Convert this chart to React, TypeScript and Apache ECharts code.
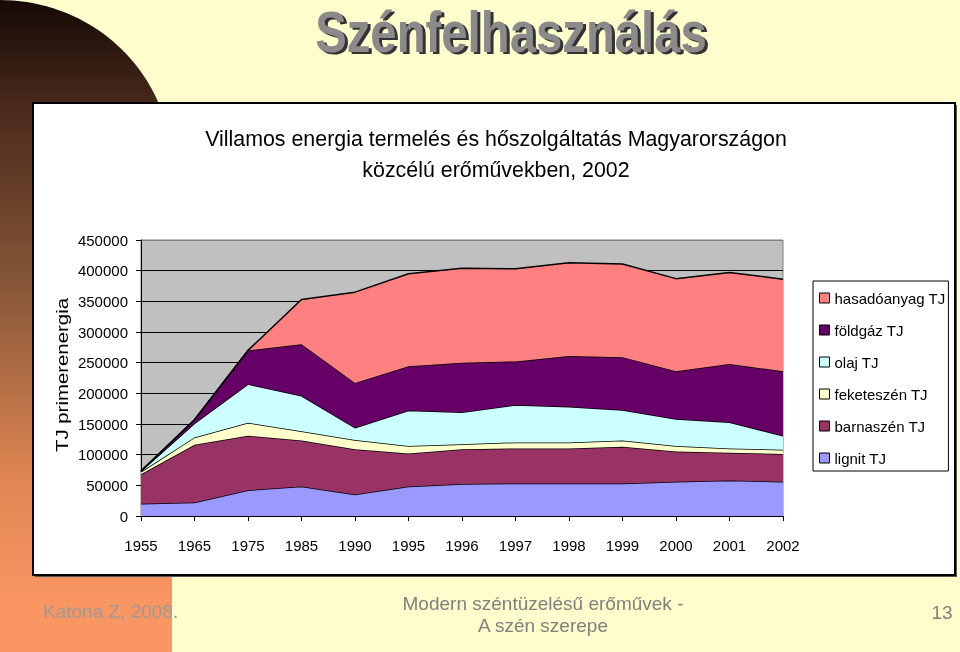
import React, { useEffect, useRef } from "react";
import * as echarts from "echarts";

const years = ["1955", "1965", "1975", "1985", "1990", "1995", "1996", "1997", "1998", "1999", "2000", "2001", "2002"];
const lignit = [20000, 22000, 42000, 48000, 35000, 48000, 52000, 53000, 53000, 53000, 56000, 58000, 56000];
const barnaszen = [48000, 94000, 89000, 75000, 74000, 54000, 57000, 57000, 57000, 60000, 49000, 45000, 45000];
const feketeszen = [4000, 12000, 21000, 15000, 15000, 12000, 8000, 10000, 10000, 10000, 9000, 7000, 7000];
const olaj = [1000, 23000, 63000, 58000, 20000, 58000, 52000, 61000, 58000, 50000, 44000, 43000, 23000];
const foldgaz = [500, 6000, 55000, 84000, 73000, 72000, 81000, 71000, 83000, 86000, 78000, 95000, 105000];
const hasado = [0, 0, 0, 73000, 148000, 151000, 154000, 151000, 152000, 152000, 151000, 149000, 150000];

const seriesNames = ["lignit TJ", "barnaszén TJ", "feketeszén TJ", "olaj TJ", "földgáz TJ", "hasadóanyag TJ"];
const seriesData = [lignit, barnaszen, feketeszen, olaj, foldgaz, hasado];
const seriesColors = ["#9999FF", "#993366", "#FFFFCC", "#CCFFFF", "#660066", "#FF8080"];

const FONT = "'Liberation Sans', Arial, sans-serif";

export default function App() {
  const ref = useRef<HTMLDivElement>(null);
  useEffect(() => {
    if (!ref.current) return;
    const chart = echarts.init(ref.current, undefined, { renderer: "svg" });

    // left decorative panel: quarter-ellipse top-right corner
    const cy = 168, rx = 172, ry = 168;
    const panelPts: number[][] = [[0, 0]];
    for (let k = 0; k <= 40; k++) {
      const t = (k / 40) * (Math.PI / 2);
      panelPts.push([rx * Math.sin(t), cy - ry * Math.cos(t)]);
    }
    panelPts.push([rx, 652], [0, 652]);
    const panelGrad = new echarts.graphic.LinearGradient(0, 0, 0, 600, [
      { offset: 0, color: "#150905" },
      { offset: 0.18, color: "#4a2a1c" },
      { offset: 0.5, color: "#8d5a3a" },
      { offset: 0.8, color: "#e08652" },
      { offset: 1, color: "#f99662" },
    ], true);

    const splitColors = ["#000", "#000", "#000", "#000", "#000", "#000", "#000", "#000", "#000", "#808080"];

    chart.setOption({
      animation: false,
      graphic: [
        { type: "rect", z: -100, shape: { x: 0, y: 0, width: 960, height: 652 }, style: { fill: "#FFFDCB" } },
        { type: "polygon", z: -99, shape: { points: panelPts }, style: { fill: panelGrad } },
        { type: "rect", z: -98, shape: { x: 35, y: 105, width: 922, height: 472 }, style: { fill: "#555" } },
        { type: "rect", z: -97, shape: { x: 33, y: 103, width: 922, height: 472 }, style: { fill: "#fff", stroke: "#000", lineWidth: 2 } },
        {
          type: "text", z: 10, x: 514, y: 34, scaleX: 0.83,
          style: { x: 0, y: 0, text: "Szénfelhasználás", font: `bold 57px ${FONT}`, lineHeight: 48, fill: "#333333", align: "center", verticalAlign: "middle" },
        },
        {
          type: "text", z: 11, x: 511, y: 32, scaleX: 0.83,
          style: { x: 0, y: 0, text: "Szénfelhasználás", font: `bold 57px ${FONT}`, lineHeight: 48, fill: "#8a8a8a", align: "center", verticalAlign: "middle" },
        },
        {
          type: "text", z: 10, x: 496, y: 138, scaleX: 0.93,
          style: { x: 0, y: 0, text: "Villamos energia termelés és hőszolgáltatás Magyarországon", font: `23px ${FONT}`, fill: "#000", align: "center", verticalAlign: "middle" },
        },
        {
          type: "text", z: 10, x: 496, y: 169, scaleX: 0.93,
          style: { x: 0, y: 0, text: "közcélú erőművekben, 2002", font: `23px ${FONT}`, fill: "#000", align: "center", verticalAlign: "middle" },
        },
        {
          type: "text", z: 10, x: 62, y: 375, rotation: Math.PI / 2, scaleX: 1.2,
          style: { x: 0, y: 0, text: "TJ primerenergia", font: `17px ${FONT}`, fill: "#000", align: "center", verticalAlign: "middle" },
        },
        {
          type: "text", z: 10, x: 43, y: 611,
          style: { x: 0, y: 0, text: "Katona Z, 2008.", font: `19px ${FONT}`, fill: "#a09a96", align: "left", verticalAlign: "middle" },
        },
        {
          type: "text", z: 10, x: 543, y: 603,
          style: { x: 0, y: 0, text: "Modern széntüzelésű erőművek -", font: `19px ${FONT}`, fill: "#808080", align: "center", verticalAlign: "middle" },
        },
        {
          type: "text", z: 10, x: 543, y: 625,
          style: { x: 0, y: 0, text: "A szén szerepe", font: `19px ${FONT}`, fill: "#808080", align: "center", verticalAlign: "middle" },
        },
        {
          type: "text", z: 10, x: 942, y: 612,
          style: { x: 0, y: 0, text: "13", font: `19px ${FONT}`, fill: "#808080", align: "center", verticalAlign: "middle" },
        },
      ],
      legend: {
        orient: "vertical",
        left: 813,
        top: 281,
        padding: [9, 3, 5, 6],
        backgroundColor: "#fff",
        borderColor: "#000",
        borderWidth: 1,
        itemWidth: 10,
        itemHeight: 10,
        itemGap: 16,
        icon: "rect",
        textStyle: { fontSize: 15, fontFamily: FONT, color: "#000", lineHeight: 16 },
        data: seriesNames
          .map((n, i) => ({ name: n, itemStyle: { color: seriesColors[i], borderColor: "#000", borderWidth: 1 } }))
          .reverse(),
        selectedMode: false,
      },
      grid: {
        left: 141,
        right: 177,
        top: 240,
        bottom: 136,
        show: true,
        backgroundColor: "#C0C0C0",
        borderColor: "#808080",
        borderWidth: 1,
      },
      xAxis: {
        type: "category",
        data: years,
        boundaryGap: false,
        axisLine: { lineStyle: { color: "#000", width: 1 } },
        axisTick: { show: true, length: 5, lineStyle: { color: "#000" } },
        axisLabel: { fontSize: 15, fontFamily: FONT, color: "#000", margin: 22, interval: 0 },
        splitLine: { show: false },
      },
      yAxis: {
        type: "value",
        min: 0,
        max: 450000,
        interval: 50000,
        axisLine: { show: true, lineStyle: { color: "#000", width: 1 } },
        axisTick: { show: true, length: 5, lineStyle: { color: "#000" } },
        axisLabel: { fontSize: 15, fontFamily: FONT, color: "#000", margin: 13, formatter: (v: number) => String(v) },
        splitLine: { show: true, lineStyle: { color: splitColors, width: 1 } },
      },
      series: seriesData.map((d, i) => ({
        name: seriesNames[i],
        type: "line",
        stack: "total",
        data: d,
        symbol: "none",
        z: 2 + i * 0.01,
        itemStyle: { color: seriesColors[i] },
        lineStyle: { color: "#000", width: 1.5 },
        areaStyle: { color: seriesColors[i], opacity: 1 },
        emphasis: { disabled: true },
      })),
    });
    return () => chart.dispose();
  }, []);
  return <div ref={ref} style={{ position: "fixed", left: 0, top: 0, width: 960, height: 652 }} />;
}
